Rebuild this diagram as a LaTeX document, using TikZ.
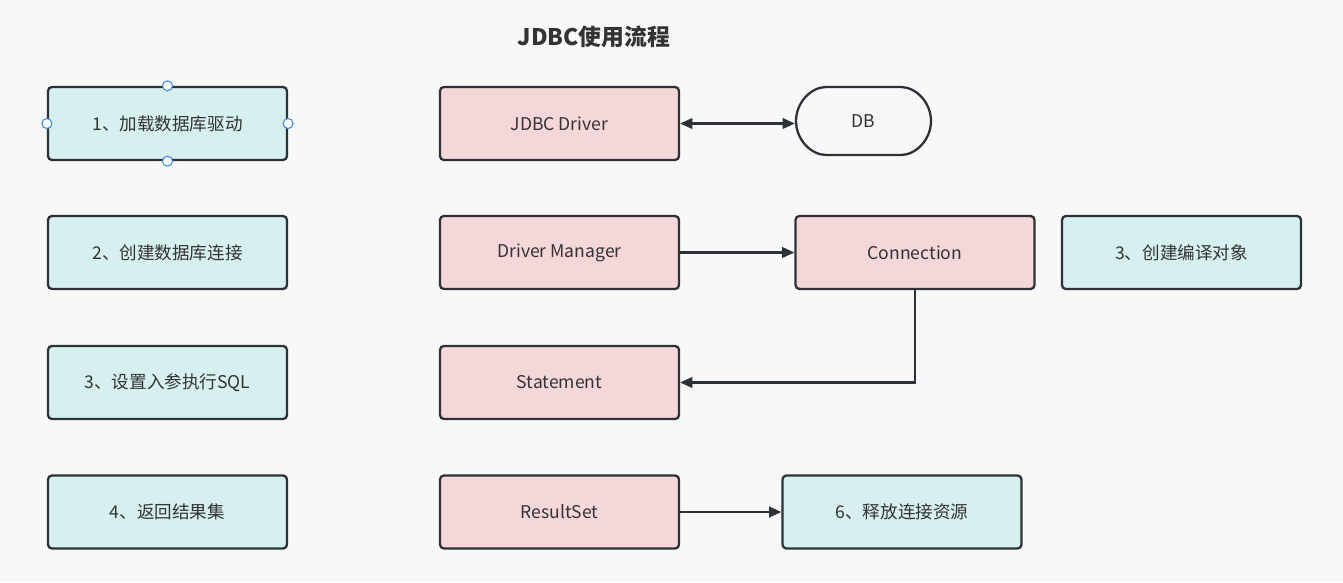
\documentclass[tikz,border=0pt]{standalone}
\usepackage{fontspec}
\setmainfont{Noto Sans CJK SC}
\usetikzlibrary{arrows.meta, positioning, shapes.misc}
\definecolor{stepblue}{HTML}{D5F0EF}
\definecolor{steppink}{HTML}{F5D6D9}
\definecolor{edgegray}{HTML}{2D3238}
\definecolor{txtgray}{HTML}{333333}
\definecolor{handleblue}{HTML}{3D8BF0}
\definecolor{pagegray}{HTML}{F8F8F8}

\begin{document}
\begin{tikzpicture}[x=0.02cm, y=-0.02cm,
        box/.style={draw=edgegray, line width=1.3pt, rounded corners=2.2pt,
            minimum width=4.78cm, minimum height=1.46cm, inner sep=0pt,
            font=\fontsize{10}{12}\selectfont, text=txtgray},
        stepbox/.style={box, fill=stepblue},
        objbox/.style={box, fill=steppink},
        dbbox/.style={box, fill=none, rounded rectangle, minimum width=2.7cm, minimum height=1.36cm},
        conn/.style={draw=edgegray, line width=1.3pt, -{Triangle[length=7pt, width=6pt]}},
        handle/.style={circle, draw=handleblue, fill=white, line width=0.6pt, minimum size=0.2cm, inner sep=0pt}]
        \fill[pagegray] (0,0) rectangle (1343,582);
        \useasboundingbox (0,0) rectangle (1343,582);

        \node[font=\bfseries\fontsize{13}{15}\selectfont, text=txtgray] (title) at (594,37) {JDBC使用流程};

        % left column: steps
        \node[stepbox] (load)    at (167.5,123.5) {1、加载数据库驱动};
        \node[stepbox] (connect) at (167.5,252.5) {2、创建数据库连接};
        \node[stepbox] (setsql)  at (167.5,382.5) {3、设置入参执行SQL};
        \node[stepbox] (result)  at (167.5,512)   {4、返回结果集};

        % selection handles on the first step
        \foreach \a in {north, south, east, west}
            \node[handle] at (load.\a) {};

        % middle column: objects
        \node[objbox] (driver)  at (559.5,123.5) {JDBC Driver};
        \node[objbox] (manager) at (559.5,252.5) {Driver Manager};
        \node[objbox] (stmt)    at (559.5,382.5) {Statement};
        \node[objbox] (rset)    at (559.5,512)   {ResultSet};

        \node[dbbox] (db) at (863.5,121) {DB};
        \node[objbox] (conobj)  at (915,252.5)    {Connection};
        \node[stepbox] (compile) at (1181.5,252.5) {3、创建编译对象};
        \node[stepbox] (release) at (902,512)     {6、释放连接资源};

        \draw[conn, {Triangle[length=7pt, width=6pt]}-{Triangle[length=7pt, width=6pt]}] (driver.east) -- (driver.east -| db.west);
        \draw[conn] (manager) -- (conobj);
        \draw[conn] (conobj.south) |- (stmt.east);
        \draw[conn] (rset) -- (release);
    \end{tikzpicture}
\end{document}
